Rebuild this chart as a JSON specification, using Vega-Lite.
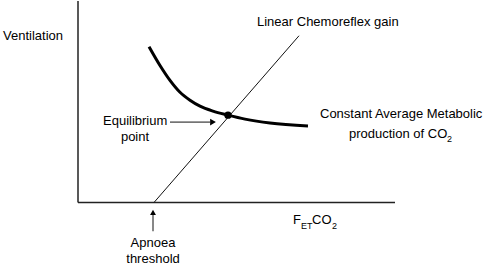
{
  "$schema": "https://vega.github.io/schema/vega-lite/v6.json",
  "width": 484,
  "height": 266,
  "padding": 0,
  "autosize": {"type": "fit", "contains": "padding"},
  "background": "white",
  "config": {"view": {"stroke": null}},
  "datasets": {
    "rules": [
      {"part": "yaxis", "x": 0, "y": 0, "x2": 0, "y2": 203},
      {"part": "xaxis", "x": 0, "y": 0, "x2": 317, "y2": 0}
    ],
    "thin": [
      {"part": "gain", "x": 76, "y": 0, "x2": 221, "y2": 168},
      {"part": "eqarrow", "x": 92, "y": 81, "x2": 132, "y2": 81},
      {"part": "aparrow", "x": 75, "y": -11, "x2": 75, "y2": -29}
    ],
    "curve": [
      {"x": 71, "y": 157}, {"x": 82, "y": 138}, {"x": 92, "y": 123},
      {"x": 102, "y": 111}, {"x": 112, "y": 103}, {"x": 122, "y": 97},
      {"x": 135, "y": 92}, {"x": 150, "y": 88}, {"x": 167, "y": 84},
      {"x": 192, "y": 80}, {"x": 230, "y": 77}
    ],
    "eq": [{"x": 150, "y": 88}],
    "headRight": [{"x": 135, "y": 81}],
    "headUp": [{"x": 75, "y": -10}],
    "labelsLeft": [
      {"text": "Ventilation", "x": -75, "y": 164},
      {"text": "Linear Chemoreflex gain", "x": 179, "y": 178},
      {"text": "Constant Average Metabolic", "x": 242, "y": 85},
      {"text": "production of CO", "x": 271, "y": 65},
      {"text": "Equilibrium", "x": 25, "y": 78},
      {"text": "F", "x": 215, "y": -22},
      {"text": "CO", "x": 234, "y": -22}
    ],
    "labelsCenter": [
      {"text": "point", "x": 57, "y": 62},
      {"text": "Apnoea", "x": 75, "y": -45},
      {"text": "threshold", "x": 75, "y": -61}
    ],
    "subs": [
      {"text": "ET", "x": 223, "y": -27},
      {"text": "2", "x": 254, "y": -27},
      {"text": "2", "x": 369, "y": 61}
    ]
  },
  "encoding": {
    "x": {"field": "x", "type": "quantitative", "scale": {"domain": [-78, 406], "nice": false, "zero": false}, "axis": null},
    "y": {"field": "y", "type": "quantitative", "scale": {"domain": [-63, 203], "nice": false, "zero": false}, "axis": null}
  },
  "layer": [
    {
      "data": {"name": "rules"},
      "mark": {"type": "rule", "color": "#222222", "strokeWidth": 1.5},
      "encoding": {"x2": {"field": "x2"}, "y2": {"field": "y2"}}
    },
    {
      "data": {"name": "thin"},
      "mark": {"type": "rule", "color": "#111111", "strokeWidth": 1},
      "encoding": {"x2": {"field": "x2"}, "y2": {"field": "y2"}}
    },
    {
      "data": {"name": "curve"},
      "mark": {"type": "line", "color": "black", "strokeWidth": 3, "interpolate": "monotone"},
      "encoding": {"order": {"field": "x", "type": "quantitative"}}
    },
    {
      "data": {"name": "eq"},
      "mark": {"type": "point", "filled": true, "color": "black", "size": 55, "opacity": 1}
    },
    {
      "data": {"name": "headRight"},
      "mark": {"type": "point", "shape": "triangle-right", "filled": true, "color": "black", "size": 45, "opacity": 1}
    },
    {
      "data": {"name": "headUp"},
      "mark": {"type": "point", "shape": "triangle-up", "filled": true, "color": "black", "size": 35, "opacity": 1}
    },
    {
      "data": {"name": "labelsLeft"},
      "mark": {"type": "text", "align": "left", "baseline": "alphabetic", "font": "Liberation Sans", "fontSize": 13, "color": "black"},
      "encoding": {"text": {"field": "text"}}
    },
    {
      "data": {"name": "labelsCenter"},
      "mark": {"type": "text", "align": "center", "baseline": "alphabetic", "font": "Liberation Sans", "fontSize": 13, "color": "black"},
      "encoding": {"text": {"field": "text"}}
    },
    {
      "data": {"name": "subs"},
      "mark": {"type": "text", "align": "left", "baseline": "alphabetic", "font": "Liberation Sans", "fontSize": 9, "color": "black"},
      "encoding": {"text": {"field": "text"}}
    }
  ]
}
